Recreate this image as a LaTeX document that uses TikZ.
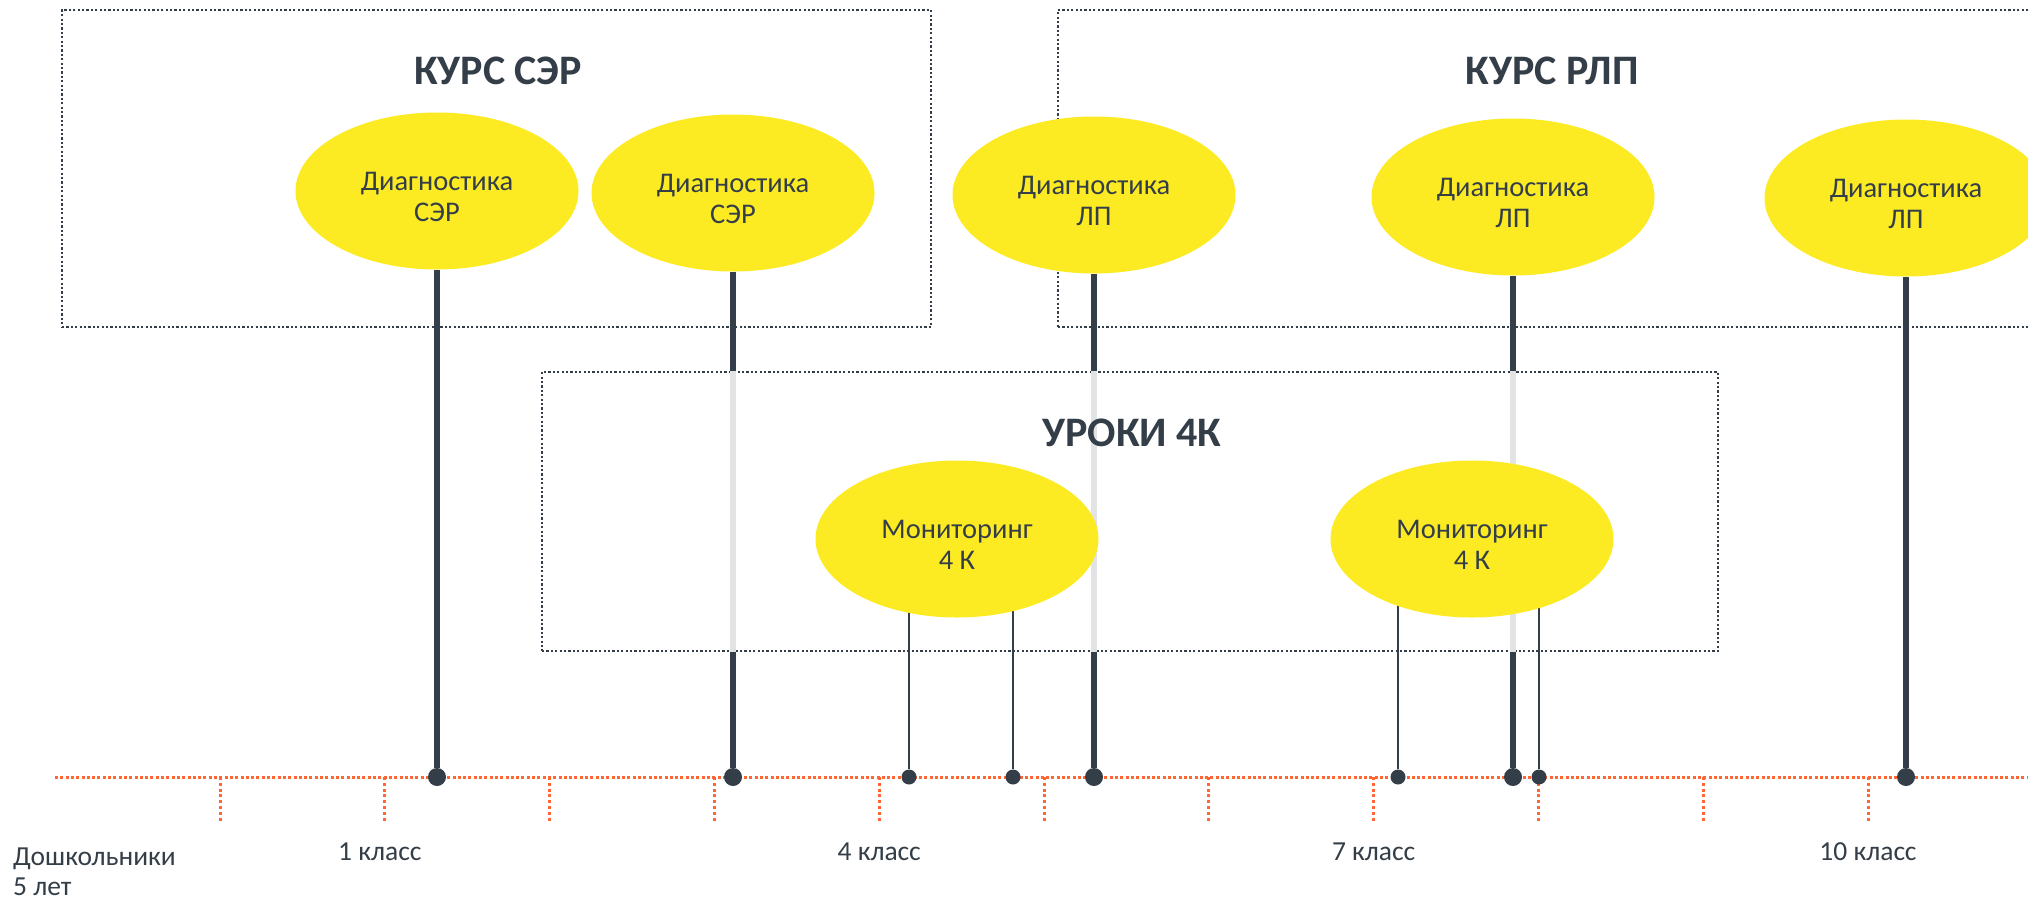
\documentclass[tikz,border=0pt]{standalone}
\usepackage{fontspec}
\setmainfont{Carlito}
\usetikzlibrary{shapes.geometric,calc}
\pgfdeclarelayer{frames}
\pgfdeclarelayer{stems}
\pgfsetlayers{frames,stems,main}
\definecolor{ink}{RGB}{52,62,72}
\definecolor{sun}{RGB}{252,235,35}
\definecolor{axiscol}{RGB}{255,102,51}
\definecolor{pale}{RGB}{226,227,229}
\newcommand{\bubtext}[2]{\raisebox{-9pt}[\height][\depth]{\begin{tabular}{@{}c@{}}#1\\#2\end{tabular}}}
\tikzset{
  panel/.style={draw=ink, line width=2.2pt, dash pattern=on 2.2pt off 2.2pt, inner sep=0pt},
  bubble/.style={ellipse, fill=sun, minimum width=283pt, minimum height=157pt, inner sep=0pt, text=ink, font=\fontsize{28.5}{31}\selectfont},
  ttl/.style={text=ink, inner sep=0pt, font=\fontsize{42}{50}\selectfont\bfseries},
  lbl/.style={text=ink, inner sep=0pt, font=\fontsize{27.5}{30}\selectfont},
  bigdot/.style={circle, fill=ink, minimum size=18pt, inner sep=0pt},
  smalldot/.style={circle, fill=ink, minimum size=15pt, inner sep=0pt},
  thickstem/.style={draw=ink, line width=6.5pt},
  palestem/.style={draw=pale, line width=6.5pt},
  thinstem/.style={draw=ink, line width=2.5pt},
  axisline/.style={draw=axiscol, line width=3pt, dash pattern=on 3pt off 2.3pt},
  tickmark/.style={draw=axiscol, line width=3pt, dash pattern=on 3pt off 2.8pt},
}
\begin{document}
\begin{tikzpicture}[x=1pt,y=-1pt]
\useasboundingbox (0,0) rectangle (2028,900);

% frames
\begin{pgfonlayer}{frames}
\node[panel, minimum width=869pt, minimum height=317pt] (boxA) at (496.5,168.5) {};
\node[panel, minimum width=1002pt, minimum height=317pt] (boxB) at (1559,168.5) {};
\node[panel, minimum width=1176pt, minimum height=279pt] (boxC) at (1130,511.5) {};
% time axis
\coordinate (axL) at (55,777);
\coordinate (axR) at (2028,777);
\draw[axisline] (axL) -- (axR);
\foreach \i in {0,...,10} {
  \coordinate (t\i) at ({220+164.8*\i},777);
  \draw[tickmark] (t\i) -- ++(0,46);
}
\end{pgfonlayer}

% titles
\node[ttl] (tA) at (498,71) {КУРС СЭР};
\node[ttl] (tB) at (1552,71) {КУРС РЛП};
\node[ttl] (tC) at (1132,433) {УРОКИ 4К};

% bubbles
\node[bubble] (E1) at (437,191) {\bubtext{Диагностика}{СЭР}};
\node[bubble] (E2) at (733,193) {\bubtext{Диагностика}{СЭР}};
\node[bubble] (E3) at (1094,195) {\bubtext{Диагностика}{ЛП}};
\node[bubble] (E4) at (1513,197) {\bubtext{Диагностика}{ЛП}};
\node[bubble] (E5) at (1906,198) {\bubtext{Диагностика}{ЛП}};
\node[bubble] (M1) at (957,539) {\bubtext{Мониторинг}{4 К}};
\node[bubble] (M2) at (1472,539) {\bubtext{Мониторинг}{4 К}};

% dots on the axis
\node[bigdot] (d1) at (437,777) {};
\node[bigdot] (d2) at (733,777) {};
\node[smalldot] (d3) at (909,777) {};
\node[smalldot] (d4) at (1013,777) {};
\node[bigdot] (d5) at (1094,777) {};
\node[smalldot] (d6) at (1398,777) {};
\node[bigdot] (d7) at (1513,777) {};
\node[smalldot] (d8) at (1539,777) {};
\node[bigdot] (d9) at (1906,777) {};

% stems
\begin{pgfonlayer}{stems}
\draw[thickstem] (E1) -- (d1);
\draw[thickstem] (E5) -- (d9);
\foreach \e/\d in {E2/d2,E3/d5,E4/d7} {
  \draw[thickstem] (\e) -- (\d |- boxC.north);
  \draw[palestem] (\d |- boxC.north) -- (\d |- boxC.south);
  \draw[thickstem] (\d |- boxC.south) -- (\d);
}
\draw[thinstem] (d3) -- (d3 |- M1.center);
\draw[thinstem] (d4) -- (d4 |- M1.center);
\draw[thinstem] (d6) -- (d6 |- M2.center);
\draw[thinstem] (d8) -- (d8 |- M2.center);
\end{pgfonlayer}

% axis labels
\node[lbl, anchor=west, align=left] (g0) at (13,872) {Дошкольники\\5 лет};
\node[lbl] (g1) at ($(t1)+(-5,75)$) {1 класс};
\node[lbl] (g4) at ($(t4)+(0,75)$) {4 класс};
\node[lbl] (g7) at ($(t7)+(0,75)$) {7 класс};
\node[lbl] (g10) at ($(t10)+(0,75)$) {10 класс};
\end{tikzpicture}
\end{document}
